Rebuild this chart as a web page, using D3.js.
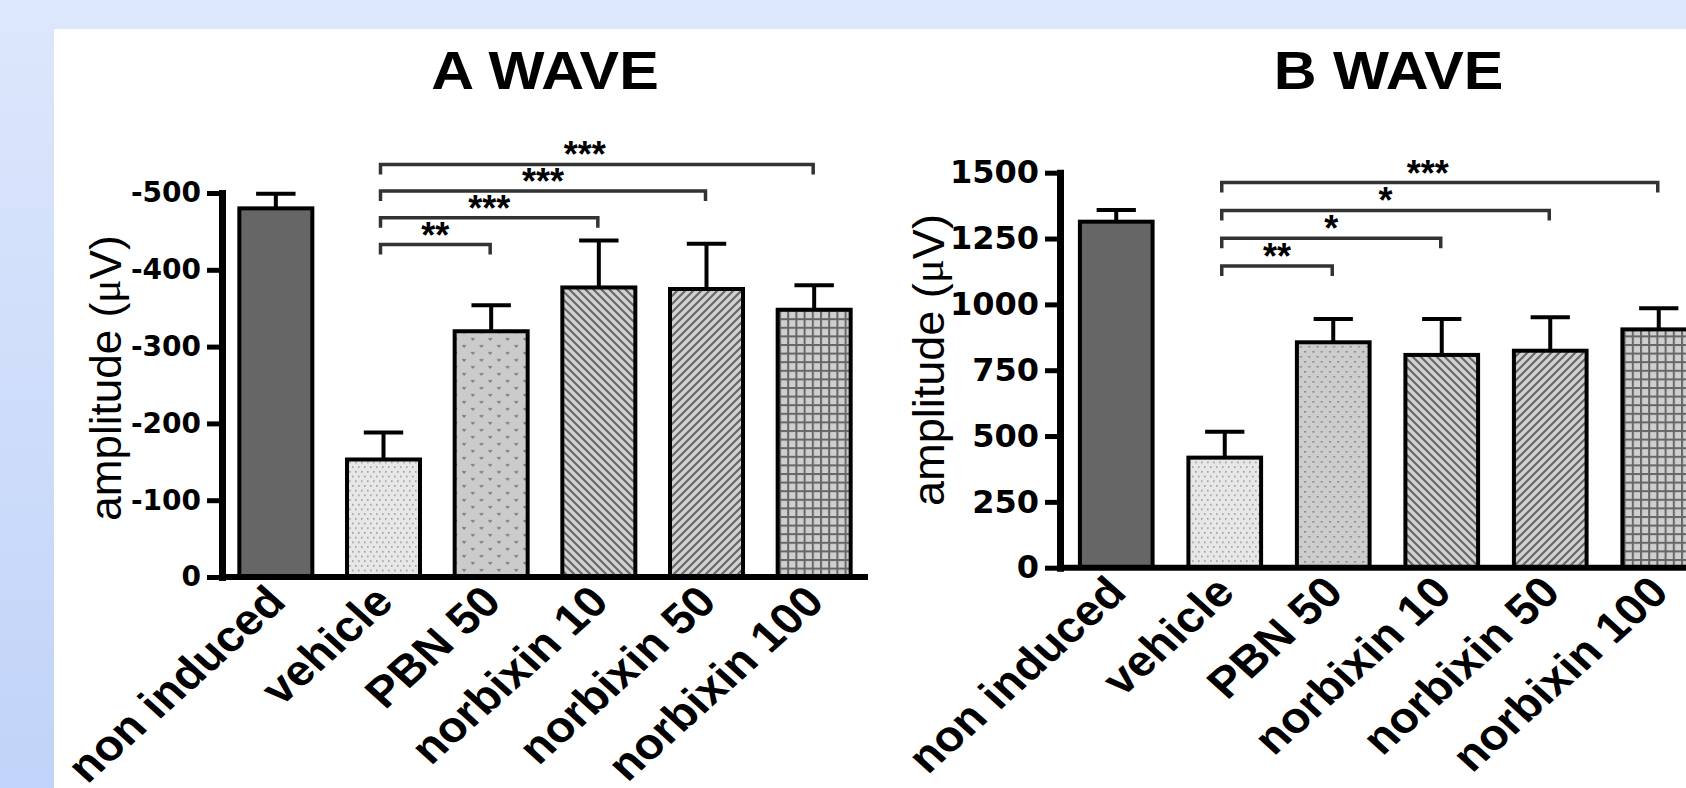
<!DOCTYPE html>
<html>
<head>
<meta charset="utf-8">
<script src="https://cdn.jsdelivr.net/npm/d3@7"></script>
<style>
  html, body { margin: 0; padding: 0; background: #ffffff; overflow: hidden; }
  svg { display: block; }
</style>
</head>
<body>
<svg id="chart" width="1686" height="788"></svg>
<script>
// ---------------- DATA ----------------
const categories = ["non induced", "vehicle", "PBN 50", "norbixin 10", "norbixin 50", "norbixin 100"];

// A wave (amplitude shown as negative on axis; magnitudes stored)
const aWaveMean = [480, 153, 320, 377, 375, 348];
const aWaveSem  = [19, 35, 34, 61, 59, 32];
const aTicks = [0, 100, 200, 300, 400, 500];
const aTickLabels = ["0", "-100", "-200", "-300", "-400", "-500"];
const aSigTargets = ["PBN 50", "norbixin 10", "norbixin 50", "norbixin 100"];
const aSigLabels = ["**", "***", "***", "***"];

// B wave
const bWaveMean = [1314, 418, 856, 808, 824, 905];
const bWaveSem  = [44, 98, 88, 136, 127, 80];
const bTicks = [0, 250, 500, 750, 1000, 1250, 1500];
const bTickLabels = ["0", "250", "500", "750", "1000", "1250", "1500"];
const bSigTargets = ["PBN 50", "norbixin 10", "norbixin 50", "norbixin 100"];
const bSigLabels = ["**", "*", "*", "***"];

const titles = ["A WAVE", "B WAVE"];
const yAxisLabel = ["amplitude (", "\u03bc", "V)"];

// ---------------- SETUP ----------------
const W = 1686, H = 788;
const svg = d3.select("#chart");
const defs = svg.append("defs");

// background gradient
const grad = defs.append("linearGradient").attr("id", "bgGrad")
  .attr("x1", 0).attr("y1", 0).attr("x2", 0).attr("y2", 1);
grad.append("stop").attr("offset", "0%").attr("stop-color", "#dde7fc");
grad.append("stop").attr("offset", "100%").attr("stop-color", "#c0d3f8");
svg.append("rect").attr("width", W).attr("height", H).attr("fill", "url(#bgGrad)");
svg.append("rect").attr("x", 54).attr("y", 29).attr("width", W - 54).attr("height", H - 29).attr("fill", "#ffffff");

// ---------------- PATTERNS ----------------
function pat(id, w, h, bg) {
  const p = defs.append("pattern").attr("id", id).attr("patternUnits", "userSpaceOnUse")
    .attr("width", w).attr("height", h);
  p.append("rect").attr("width", w).attr("height", h).attr("fill", bg);
  return p;
}
// vehicle: fine dots on light gray
{
  const p = pat("pDots", 6, 9.4, "#e7e7e7");
  p.append("rect").attr("x", 1).attr("y", 1).attr("width", 1.6).attr("height", 1.6).attr("fill", "#9c9c9c");
  p.append("rect").attr("x", 4).attr("y", 5.7).attr("width", 1.6).attr("height", 1.6).attr("fill", "#9c9c9c");
}
// PBN 50 (A): small chevrons
{
  const p = pat("pChev", 17.4, 14, "#cbcbcb");
  p.append("path").attr("d", "M1.5,2 L3,4 L4.5,2").attr("fill", "none").attr("stroke", "#7a7a7a").attr("stroke-width", 1.3);
  p.append("path").attr("d", "M10.2,9 L11.7,11 L13.2,9").attr("fill", "none").attr("stroke", "#7a7a7a").attr("stroke-width", 1.3);
}
// PBN 50 (B): dots on mid gray
{
  const p = pat("pDots2", 8.3, 10, "#cdcdcd");
  p.append("rect").attr("x", 1).attr("y", 1).attr("width", 2).attr("height", 1.6).attr("fill", "#8a8a8a");
  p.append("rect").attr("x", 5.15).attr("y", 6).attr("width", 2).attr("height", 1.6).attr("fill", "#8a8a8a");
}
// diagonal down-right
{
  const p = pat("pDiagDown", 8, 8, "#d2d2d2");
  p.append("path").attr("d", "M-2,-2 L10,10 M-6,2 L2,10 M6,-2 L14,6")
    .attr("stroke", "#686868").attr("stroke-width", 2.2);
}
// diagonal up-right
{
  const p = pat("pDiagUp", 8, 8, "#d2d2d2");
  p.append("path").attr("d", "M-2,10 L10,-2 M-6,6 L2,-2 M6,10 L14,2")
    .attr("stroke", "#686868").attr("stroke-width", 2.2);
}
// grid
{
  const p = pat("pGrid", 8.2, 8.6, "#cfcfcf");
  p.append("rect").attr("x", 0).attr("y", 0).attr("width", 2).attr("height", 8.6).attr("fill", "#666666");
  p.append("rect").attr("x", 0).attr("y", 0).attr("width", 8.2).attr("height", 2).attr("fill", "#666666");
}

// ---------------- PANEL ----------------
function drawPanel(cfg) {
  const g = svg.append("g");
  const y = d3.scaleLinear().domain(cfg.domain).range([cfg.y0, cfg.yTop]);
  const x = d3.scaleBand().domain(categories).range(cfg.xRange)
    .paddingInner(cfg.padIn).paddingOuter(cfg.padOut);
  const bw = x.bandwidth();

  // title
  g.append("text")
    .attr("transform", `translate(${(cfg.axisX + cfg.xRange[1]) / 2 + cfg.titleDx},89) scale(1.12,1)`)
    .attr("text-anchor", "middle")
    .style("font-family", "'Liberation Sans', Arial, sans-serif").style("font-weight", "bold")
    .style("font-size", "53px").text(cfg.title);

  // y label
  const yl = g.append("text")
    .attr("transform", `translate(${cfg.labelX},${cfg.labelY}) rotate(-90)`)
    .attr("text-anchor", "middle").attr("dominant-baseline", "central")
    .style("font-family", "'Liberation Sans', Arial, sans-serif").style("font-size", cfg.labelFont + "px");
  yl.append("tspan").text(yAxisLabel[0]);
  yl.append("tspan").style("font-family", "'Liberation Serif', serif").text(yAxisLabel[1]);
  yl.append("tspan").text(yAxisLabel[2]);

  // bars
  g.selectAll("rect.bar").data(cfg.mean).enter().append("rect")
    .attr("class", "bar")
    .attr("x", (d, i) => x(categories[i]))
    .attr("y", d => y(d))
    .attr("width", bw)
    .attr("height", d => y(0) - y(d))
    .attr("fill", (d, i) => cfg.fills[i])
    .attr("stroke", "#000").attr("stroke-width", 4);

  // error bars
  const eb = g.selectAll("g.eb").data(cfg.mean).enter().append("g").attr("class", "eb");
  eb.append("line")
    .attr("x1", (d, i) => x(categories[i]) + bw / 2).attr("x2", (d, i) => x(categories[i]) + bw / 2)
    .attr("y1", d => y(d)).attr("y2", (d, i) => y(d + cfg.sem[i]))
    .attr("stroke", "#000").attr("stroke-width", 4);
  eb.append("line")
    .attr("x1", (d, i) => x(categories[i]) + bw / 2 - bw * 0.27)
    .attr("x2", (d, i) => x(categories[i]) + bw / 2 + bw * 0.27)
    .attr("y1", (d, i) => y(d + cfg.sem[i])).attr("y2", (d, i) => y(d + cfg.sem[i]))
    .attr("stroke", "#000").attr("stroke-width", 4);

  // axes
  const axis = d3.axisLeft(y).tickValues(cfg.ticks).tickFormat((d, i) => cfg.tickLabels[i])
    .tickSize(15).tickSizeOuter(0).tickPadding(6);
  const ag = g.append("g").attr("transform", `translate(${cfg.axisX},0)`).call(axis);
  ag.select(".domain").attr("stroke", "#000").attr("stroke-width", 7).attr("stroke-linecap", "square");
  ag.selectAll(".tick line").attr("stroke", "#000").attr("stroke-width", 5);
  ag.selectAll(".tick text").attr("fill", "#000")
    .style("font-family", "'DejaVu Sans', sans-serif").style("font-weight", "bold")
    .style("font-size", cfg.tickFont + "px");

  // x baseline
  g.append("line").attr("x1", cfg.axisX - 3).attr("x2", cfg.xEnd)
    .attr("y1", y(0)).attr("y2", y(0)).attr("stroke", "#000").attr("stroke-width", 6);

  // category labels
  g.selectAll("text.cat").data(categories).enter().append("text")
    .attr("class", "cat")
    .attr("transform", d => `translate(${x(d) + bw / 2 + 12},${y(0) + 27}) scale(1.11,1) rotate(-45)`)
    .attr("text-anchor", "end")
    .style("font-family", "'Liberation Sans', Arial, sans-serif").style("font-weight", "bold")
    .style("font-size", "43px").text(d => d);

  // significance brackets
  const xl = x("vehicle") + bw / 2 - 3;
  cfg.sigTargets.forEach((t, i) => {
    const by = cfg.bracketY - i * cfg.bracketStep;
    const xr = x(t) + bw / 2 - 1;
    const dx = (i === cfg.sigTargets.length - 1) ? -12 : 0;
    g.append("path")
      .attr("d", `M${xl},${by + 10} V${by} H${xr} V${by + 10}`)
      .attr("fill", "none").attr("stroke", "#333").attr("stroke-width", 3.5);
    g.append("text").attr("x", (xl + xr) / 2 + dx).attr("y", by + 3)
      .attr("text-anchor", "middle")
      .style("font-family", "'Liberation Sans', Arial, sans-serif").style("font-weight", "bold")
      .style("font-size", "36px").text(cfg.sigLabels[i]);
  });
}

drawPanel({
  title: titles[0], titleDx: 0,
  domain: [0, 500], y0: 577, yTop: 193,
  axisX: 222, xRange: [222, 868], xEnd: 868, padIn: 0.322, padOut: 0.161,
  mean: aWaveMean, sem: aWaveSem, ticks: aTicks, tickLabels: aTickLabels, tickFont: 28,
  fills: ["#666666", "url(#pDots)", "url(#pChev)", "url(#pDiagDown)", "url(#pDiagUp)", "url(#pGrid)"],
  labelX: 105, labelY: 378, labelFont: 44,
  sigTargets: aSigTargets, sigLabels: aSigLabels, bracketY: 244.5, bracketStep: 26.7
});

drawPanel({
  title: titles[1], titleDx: 2,
  domain: [0, 1500], y0: 567.7, yTop: 172.7,
  axisX: 1060, xRange: [1062, 1713], xEnd: 1700, padIn: 0.33, padOut: 0.165,
  mean: bWaveMean, sem: bWaveSem, ticks: bTicks, tickLabels: bTickLabels, tickFont: 32,
  fills: ["#666666", "url(#pDots)", "url(#pDots2)", "url(#pDiagDown)", "url(#pDiagUp)", "url(#pGrid)"],
  labelX: 928, labelY: 360, labelFont: 45,
  sigTargets: bSigTargets, sigLabels: bSigLabels, bracketY: 266, bracketStep: 27.8
});
</script>
</body>
</html>
